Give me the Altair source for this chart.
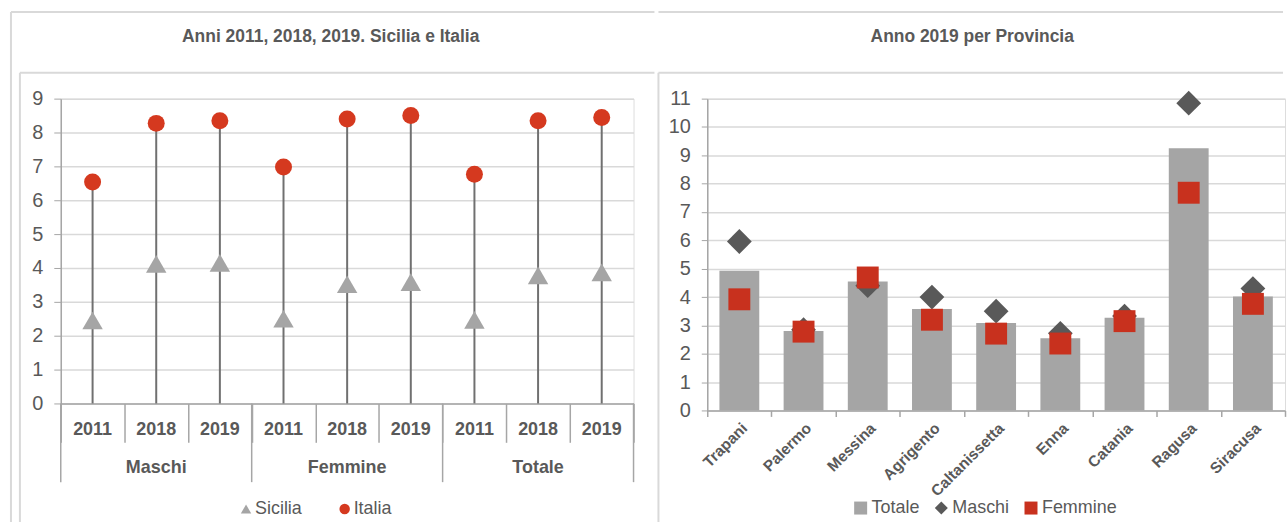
import altair as alt
import pandas as pd

# ---------------- data ----------------
groups = ["Maschi", "Femmine", "Totale"]
years = ["2011", "2018", "2019"]
sicilia = [2.45, 4.12, 4.15, 2.50, 3.52, 3.58, 2.47, 3.78, 3.87]
italia = [6.54, 8.27, 8.35, 6.98, 8.40, 8.50, 6.77, 8.35, 8.44]

province = ["Trapani", "Palermo", "Messina", "Agrigento", "Caltanissetta",
            "Enna", "Catania", "Ragusa", "Siracusa"]
totale = [4.93, 2.80, 4.55, 3.58, 3.08, 2.55, 3.27, 9.25, 4.02]
maschi = [5.96, 2.85, 4.40, 4.00, 3.50, 2.72, 3.33, 10.84, 4.30]
femmine = [3.92, 2.78, 4.69, 3.20, 2.71, 2.36, 3.15, 7.68, 3.76]

title_left = "Anni 2011, 2018, 2019. Sicilia e Italia"
title_right = "Anno 2019 per Provincia"

# ---------------- style ----------------
FONT = "'Liberation Sans Narrow', 'Arial Narrow', 'Liberation Sans', sans-serif"
TXT = "#595959"
AX = "#A6A6A6"
GRID = "#D9D9D9"
FRAME = "#D9D9D9"
GRAY = "#A5A5A5"
DARK = "#595959"
RED_C = "#D5391F"
RED_S = "#C8311E"
STEM = "#707070"

# ---------------- left panel ----------------
keys = [f"{g} {y}" for g in groups for y in years]
left_df = pd.DataFrame({
    "key": keys,
    "group": [g for g in groups for _ in years],
    "year": years * len(groups),
    "Sicilia": sicilia,
    "Italia": italia,
})
left_long = left_df.melt(id_vars=["key", "group", "year"],
                         value_vars=["Sicilia", "Italia"],
                         var_name="serie", value_name="valore")

LW, LH = 575, 306
series_l = ["Sicilia", "Italia"]
x_scale_l = alt.Scale(domain=keys, paddingInner=0, paddingOuter=0)
x_axis_l = alt.Axis(title=None, labels=False, tickBand="extent", tickSize=39,
                    tickColor=AX, domainColor=AX, grid=False, tickWidth=1.5,
                    domainWidth=1.5)
y_scale_l = alt.Scale(domain=[0, 9], nice=False)
y_axis_l = alt.Axis(title=None, values=list(range(10)), grid=True, gridColor=GRID,
                    gridWidth=1.5, domainColor=AX, tickColor=AX, tickSize=7,
                    domainWidth=1.5, labelPadding=11, labelFontSize=20,
                    labelColor=TXT, labelFont=FONT)


def xl(**kw):
    return alt.X("key:N", sort=keys, scale=x_scale_l, axis=x_axis_l, **kw)


stems = alt.Chart(left_df).mark_rule(color=STEM, strokeWidth=2).encode(
    x=xl(),
    y=alt.Y("Italia:Q", scale=y_scale_l, axis=y_axis_l),
    y2=alt.datum(0),
)

leg_l = alt.Legend(orient="none", legendX=177, legendY=403, direction="horizontal",
                   title=None, labelFont=FONT, labelFontSize=18, labelColor=TXT,
                   symbolSize=110, symbolStrokeWidth=0, columnPadding=33,
                   labelOffset=0, padding=0)
col_l = alt.Color("serie:N", scale=alt.Scale(domain=series_l, range=[GRAY, RED_C]),
                  legend=leg_l)
shp_l = alt.Shape("serie:N", scale=alt.Scale(domain=series_l,
                                             range=["triangle-up", "circle"]),
                  legend=leg_l)


def pts_left(name, size):
    return alt.Chart(left_long[left_long["serie"] == name]).mark_point(
        filled=True, opacity=1, strokeWidth=0, size=size).encode(
        x=xl(), y=alt.Y("valore:Q", scale=y_scale_l, axis=y_axis_l),
        color=col_l, shape=shp_l)


year_txt = alt.Chart(left_df).mark_text(font=FONT, fontSize=18, fontWeight="bold",
                                        color=TXT, baseline="middle").encode(
    x=xl(), y=alt.value(333), text="year:N")
group_txt = alt.Chart(left_df[left_df["year"] == "2018"]).mark_text(
    font=FONT, fontSize=18, fontWeight="bold", color=TXT, baseline="middle").encode(
    x=xl(), y=alt.value(371), text="group:N")
sep_start = alt.Chart(left_df[left_df["year"] == "2011"]).mark_rule(
    color=AX, strokeWidth=1.5).encode(x=xl(bandPosition=0), y=alt.value(LH),
                                      y2=alt.value(385))
sep_end = alt.Chart(left_df.tail(1)).mark_rule(color=AX, strokeWidth=1.5).encode(
    x=xl(bandPosition=1), y=alt.value(LH), y2=alt.value(385))

one = pd.DataFrame({"t": [""]})


def hrule(x1, x2, y):
    return alt.Chart(one).mark_rule(color=FRAME, strokeWidth=2).encode(
        x=alt.value(x1), x2=alt.value(x2), y=alt.value(y))


def vrule(x, y1, y2):
    return alt.Chart(one).mark_rule(color=FRAME, strokeWidth=2).encode(
        x=alt.value(x), y=alt.value(y1), y2=alt.value(y2))


ttl_l = alt.Chart(pd.DataFrame({"t": [title_left]})).mark_text(
    font=FONT, fontSize=17.5, fontWeight="bold", color=TXT, align="center",
    baseline="middle").encode(text="t:N", x=alt.value(271), y=alt.value(-62))

left = alt.layer(
    hrule(-50, 596, -87), hrule(-41, 596, -26), vrule(-50, -87, 425), vrule(-41, -26, 425),
    ttl_l, stems, pts_left("Sicilia", 420), pts_left("Italia", 290),
    year_txt, group_txt, sep_start, sep_end,
).properties(width=LW, height=LH)

# ---------------- right panel ----------------
right_df = pd.DataFrame({"provincia": province, "Totale": totale,
                         "Maschi": maschi, "Femmine": femmine})
bars_df = right_df[["provincia", "Totale"]].rename(columns={"Totale": "valore"})
bars_df["serie"] = "Totale"
pts_r_df = right_df.melt(id_vars=["provincia"], value_vars=["Maschi", "Femmine"],
                         var_name="serie", value_name="valore")

RW, RH = 580, 313
series_r = ["Totale", "Maschi", "Femmine"]
x_r = alt.X("provincia:N", sort=province,
            scale=alt.Scale(domain=province, paddingInner=0, paddingOuter=0),
            axis=alt.Axis(title=None, labelAngle=-45, labelFont=FONT,
                          labelFontWeight="bold", labelFontSize=15.5, labelColor=TXT,
                          tickBand="extent", tickSize=6, tickColor=AX, domainColor=AX,
                          tickWidth=1.5, domainWidth=1.5, labelPadding=4, grid=False))
y_r = alt.Y("valore:Q", scale=alt.Scale(domain=[0, 11], nice=False),
            axis=alt.Axis(title=None, values=list(range(12)), grid=True, gridColor=GRID,
                          gridWidth=1.5, domainColor=AX, tickColor=AX, tickSize=6,
                          domainWidth=1.5, labelPadding=11, labelFontSize=20,
                          labelColor=TXT, labelFont=FONT))
leg_r = alt.Legend(orient="none", legendX=145, legendY=402, direction="horizontal",
                   title=None, labelFont=FONT, labelFontSize=18, labelColor=TXT,
                   symbolSize=170, symbolStrokeWidth=0, columnPadding=12,
                   labelOffset=2, padding=0)
col_r = alt.Color("serie:N", scale=alt.Scale(domain=series_r, range=[GRAY, DARK, RED_S]),
                  legend=leg_r)
shp_r = alt.Shape("serie:N", scale=alt.Scale(domain=series_r,
                                             range=["square", "diamond", "square"]),
                  legend=leg_r)

bars = alt.Chart(bars_df).mark_bar(width=40, opacity=1).encode(x=x_r, y=y_r, color=col_r)


def pts_right(name, size):
    return alt.Chart(pts_r_df[pts_r_df["serie"] == name]).mark_point(
        filled=True, opacity=1, strokeWidth=0, size=size).encode(
        x=x_r, y=y_r, color=col_r, shape=shp_r)


ttl_r = alt.Chart(pd.DataFrame({"t": [title_right]})).mark_text(
    font=FONT, fontSize=17.5, fontWeight="bold", color=TXT, align="center",
    baseline="middle").encode(text="t:N", x=alt.value(266), y=alt.value(-62))

right = alt.layer(
    hrule(-49, 578, -87), hrule(-49, 578, -26), vrule(-49, -26, 425),
    ttl_r, bars, pts_right("Maschi", 620), pts_right("Femmine", 484),
).properties(width=RW, height=RH)

chart = alt.hconcat(left, right, spacing=0).resolve_scale(
    color="independent", shape="independent"
).resolve_legend(color="independent", shape="independent").properties(
    padding={"left": 9, "top": 9, "right": 0, "bottom": 0}
).configure_view(stroke=GRID, strokeWidth=1.5).configure(background="white")

chart.save("out.html", embed_options={"renderer": "svg", "actions": False})
